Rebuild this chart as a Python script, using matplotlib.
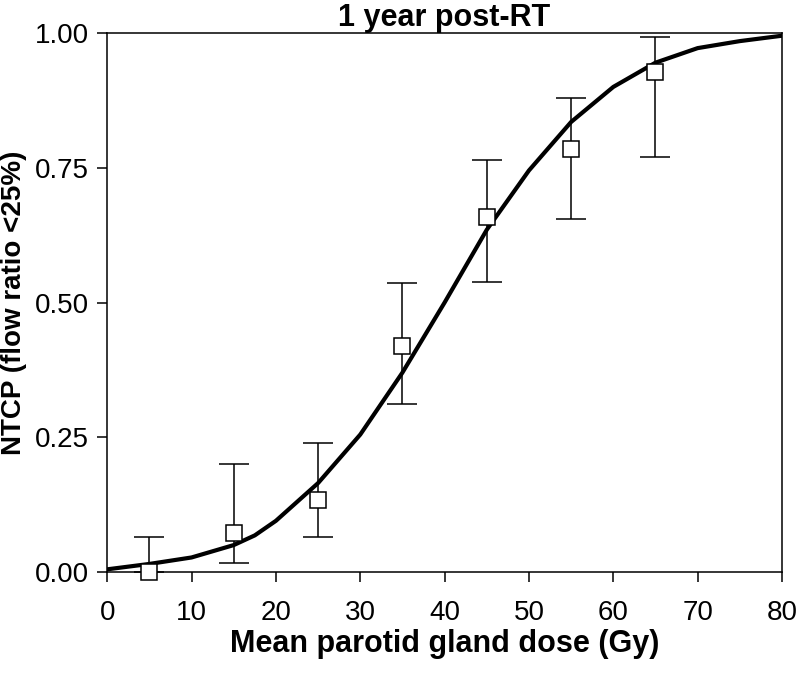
#!/usr/bin/env python3

import matplotlib
matplotlib.use('Agg')
import matplotlib.pyplot as plt

plt.rcParams['font.family'] = ['Liberation Sans', 'DejaVu Sans']

# fitted NTCP curve
curve_dose = [0, 5, 10, 15, 17.5, 20, 25, 30, 35, 40, 45, 50, 55, 60, 65, 70, 75, 80]
curve_ntcp = [0.005, 0.015, 0.027, 0.05, 0.068, 0.095, 0.165, 0.255, 0.37, 0.50,
              0.635, 0.745, 0.835, 0.90, 0.945, 0.972, 0.985, 0.995]

# observed points with confidence intervals
dose = [5, 15, 25, 35, 45, 55, 65]
ntcp = [0.0, 0.072, 0.134, 0.42, 0.659, 0.785, 0.928]
ci_low = [0.0, 0.017, 0.065, 0.312, 0.538, 0.655, 0.77]
ci_high = [0.065, 0.20, 0.24, 0.537, 0.765, 0.88, 0.993]

xticks = [0, 10, 20, 30, 40, 50, 60, 70, 80]
yticks = [0, 0.25, 0.5, 0.75, 1.0]
ytick_labels = ['0.00', '0.25', '0.50', '0.75', '1.00']

fig = plt.figure(figsize=(8, 6.74), dpi=100)
ax = fig.add_axes([0.134, 0.1513, 0.8435, 0.7997])

ax.plot(curve_dose, curve_ntcp, color='black', lw=3, zorder=3)

yerr = [[n - lo for n, lo in zip(ntcp, ci_low)],
        [hi - n for n, hi in zip(ntcp, ci_high)]]
eb = ax.errorbar(dose, ntcp, yerr=yerr, fmt='s', ms=11, mfc='white', mec='black',
                 mew=1.1, ecolor='black', elinewidth=1.1, capsize=10.5, capthick=1.1,
                 zorder=4)
for art in eb.get_children():
    art.set_clip_on(False)

ax.set_xlim(0, 80)
ax.set_ylim(0, 1)
ax.set_xticks(xticks)
ax.set_yticks(yticks)
ax.set_yticklabels(ytick_labels)
ax.tick_params(direction='out', length=7, width=1.1, labelsize=20)
ax.tick_params(axis='x', pad=13)
ax.tick_params(axis='y', pad=6)

for s in ax.spines.values():
    s.set_linewidth(1.1)

ax.set_xlabel('Mean parotid gland dose (Gy)', fontsize=22, fontweight='bold', labelpad=2)
ax.set_ylabel('NTCP (flow ratio <25%)', fontsize=20, fontweight='bold', labelpad=6)
ax.set_title('1 year post-RT', fontsize=22, fontweight='bold', pad=5)

fig.savefig('out.png', dpi=100)
